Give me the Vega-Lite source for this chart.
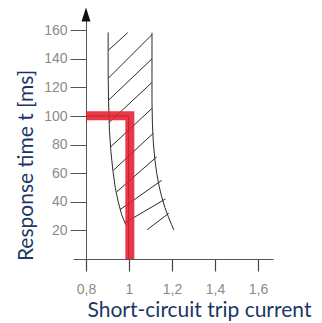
{
  "$schema": "https://vega.github.io/schema/vega-lite/v6.json",
  "width": 200,
  "height": 243,
  "autosize": "none",
  "padding": {"left": 73, "top": 16, "right": 49, "bottom": 64},
  "background": "white",
  "config": {"view": {"stroke": null}, "axis": {"grid": false}},
  "datasets": {
    "band": [
      {"side": "L", "o": 1, "x": 0.903, "y": 158.5},
      {"side": "L", "o": 2, "x": 0.903, "y": 130},
      {"side": "L", "o": 3, "x": 0.905, "y": 110},
      {"side": "L", "o": 4, "x": 0.909, "y": 90},
      {"side": "L", "o": 5, "x": 0.916, "y": 75},
      {"side": "L", "o": 6, "x": 0.925, "y": 62},
      {"side": "L", "o": 7, "x": 0.936, "y": 50},
      {"side": "L", "o": 8, "x": 0.95, "y": 40},
      {"side": "L", "o": 9, "x": 0.966, "y": 31},
      {"side": "L", "o": 10, "x": 0.985, "y": 24},
      {"side": "R", "o": 1, "x": 1.107, "y": 158.3},
      {"side": "R", "o": 2, "x": 1.107, "y": 130},
      {"side": "R", "o": 3, "x": 1.107, "y": 110},
      {"side": "R", "o": 4, "x": 1.109, "y": 95},
      {"side": "R", "o": 5, "x": 1.113, "y": 82},
      {"side": "R", "o": 6, "x": 1.12, "y": 70},
      {"side": "R", "o": 7, "x": 1.129, "y": 60},
      {"side": "R", "o": 8, "x": 1.14, "y": 51},
      {"side": "R", "o": 9, "x": 1.152, "y": 43.6},
      {"side": "R", "o": 10, "x": 1.167, "y": 36},
      {"side": "R", "o": 11, "x": 1.183, "y": 29.6},
      {"side": "R", "o": 12, "x": 1.198, "y": 24},
      {"side": "R", "o": 13, "x": 1.209, "y": 20.3}
    ],
    "hatch": [
      {"id": "A", "x": 0.904, "y": 146}, {"id": "A", "x": 0.994, "y": 158.3},
      {"id": "B", "x": 0.904, "y": 126.5}, {"id": "B", "x": 1.107, "y": 157},
      {"id": "C", "x": 0.904, "y": 111}, {"id": "C", "x": 1.107, "y": 140},
      {"id": "D", "x": 0.907, "y": 95.5}, {"id": "D", "x": 1.107, "y": 123.5},
      {"id": "E", "x": 0.915, "y": 78.5}, {"id": "E", "x": 1.108, "y": 105.5},
      {"id": "F", "x": 0.927, "y": 62}, {"id": "F", "x": 1.113, "y": 88},
      {"id": "G", "x": 0.943, "y": 47}, {"id": "G", "x": 1.129, "y": 71.5},
      {"id": "H", "x": 0.958, "y": 34.5}, {"id": "H", "x": 1.152, "y": 55},
      {"id": "I", "x": 0.983, "y": 25.5}, {"id": "I", "x": 1.17, "y": 42},
      {"id": "J", "x": 1.085, "y": 20.5}, {"id": "J", "x": 1.185, "y": 32}
    ],
    "base": [
      {"o": 1, "x": 0.8, "y": 100},
      {"o": 2, "x": 0.998, "y": 100},
      {"o": 3, "x": 0.998, "y": 0}
    ],
    "red": [
      {"o": 1, "x": 0.8, "y": 100.3},
      {"o": 2, "x": 1.004, "y": 100.3},
      {"o": 3, "x": 1.004, "y": 0}
    ],
    "arrow": [{"x": 0.8, "y": 171}]
  },
  "encoding": {
    "x": {
      "field": "x",
      "type": "quantitative",
      "scale": {"domain": [0.7395, 1.67], "nice": false, "zero": false},
      "axis": {
        "values": [0.8, 1, 1.2, 1.4, 1.6],
        "labelExpr": "replace(format(datum.value, '.1~f'), '.', ',')",
        "labelFlush": false,
        "ticks": true,
        "tickSize": 12,
        "tickWidth": 1.2,
        "tickColor": "#444444",
        "domainColor": "#555555",
        "labelColor": "#8a8a8a",
        "labelFont": "Liberation Sans",
        "labelFontSize": 14,
        "labelPadding": 11,
        "labelBaseline": "top",
        "title": "Short-circuit trip current",
        "titleFont": "Lato",
        "titleFontSize": 21,
        "titleFontWeight": "normal",
        "titleColor": "#1b3764",
        "titleX": 14,
        "titleY": 57,
        "titleAlign": "left",
        "titleBaseline": "alphabetic"
      }
    },
    "y": {
      "field": "y",
      "type": "quantitative",
      "scale": {"domain": [0, 170], "nice": false},
      "axis": {
        "values": [20, 40, 60, 80, 100, 120, 140, 160],
        "offset": -13,
        "tickSize": 16,
        "tickColor": "#555555",
        "domainColor": "#555555",
        "labelColor": "#8a8a8a",
        "labelFont": "Liberation Sans",
        "labelFontSize": 14,
        "labelPadding": 3,
        "title": "Response time t [ms]",
        "titleFont": "Lato",
        "titleFontSize": 21,
        "titleFontWeight": "normal",
        "titleColor": "#1b3764",
        "titleAngle": -90,
        "titleX": -54,
        "titleY": 149,
        "titleAlign": "center",
        "titleBaseline": "alphabetic"
      }
    }
  },
  "layer": [
    {
      "data": {"name": "band"},
      "mark": {"type": "line", "color": "#2a2a2a", "strokeWidth": 1},
      "encoding": {"detail": {"field": "side"}, "order": {"field": "o"}}
    },
    {
      "data": {"name": "hatch"},
      "mark": {"type": "line", "color": "#2a2a2a", "strokeWidth": 1},
      "encoding": {"detail": {"field": "id"}}
    },
    {
      "data": {"name": "base"},
      "mark": {"type": "line", "color": "#222222", "strokeWidth": 1},
      "encoding": {"order": {"field": "o"}}
    },
    {
      "data": {"name": "red"},
      "mark": {"type": "line", "color": "#e41e2d", "opacity": 0.88, "strokeWidth": 9, "strokeJoin": "miter", "strokeCap": "butt"},
      "encoding": {"order": {"field": "o"}}
    },
    {
      "data": {"name": "arrow"},
      "mark": {"type": "point", "shape": "M0,-1L0.64,1L-0.64,1Z", "filled": true, "color": "#111111", "opacity": 1, "size": 196}
    }
  ]
}
